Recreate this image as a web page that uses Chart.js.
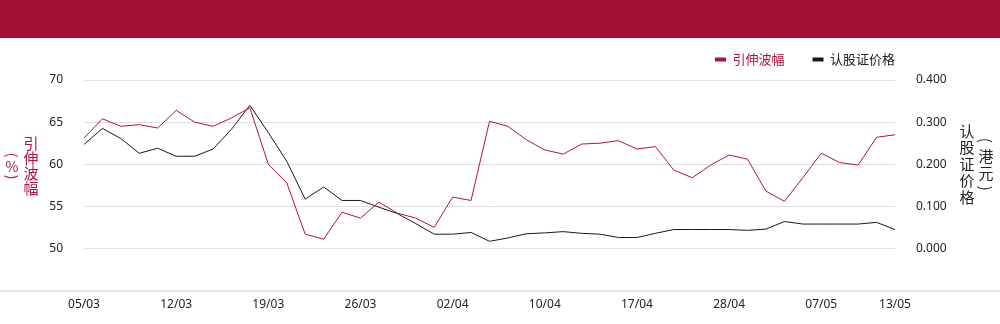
<!DOCTYPE html>
<html>
<head>
<meta charset="utf-8">
<script src="https://cdn.jsdelivr.net/npm/chart.js@4"></script>
<style>
  body { margin: 0; background: #fff; }
  .band { height: 38px; background: #a30e33; }
  .box { position: relative; width: 1000px; height: 286px; }
</style>
</head>
<body>
<div class="band"></div>
<div class="box"><canvas id="myChart"></canvas></div>
<script>
const dates = [
  '05/03','06/03','07/03','08/03','09/03',
  '12/03','13/03','14/03','15/03','16/03',
  '19/03','20/03','21/03','22/03','23/03',
  '26/03','27/03','28/03','29/03','30/03',
  '02/04','03/04','04/04','08/04','09/04',
  '10/04','11/04','12/04','13/04','16/04',
  '17/04','18/04','19/04','20/04','27/04',
  '28/04','29/04','30/04','03/05','06/05',
  '07/05','08/05','09/05','10/05','13/05'
];

// 引伸波幅 (%)
const impliedVol = [
  63.1, 65.4, 64.5, 64.7, 64.3, 66.4, 65.0, 64.5, 65.5, 66.7,
  60.0, 57.8, 51.7, 51.1, 54.3, 53.6, 55.5, 54.2, 53.6, 52.5,
  56.1, 55.7, 65.1, 64.5, 62.9, 61.7, 61.2, 62.4, 62.5, 62.8,
  61.8, 62.1, 59.3, 58.4, 59.9, 61.1, 60.6, 56.8, 55.6, 58.4,
  61.3, 60.2, 59.9, 63.2, 63.5
];

// 认股证价格 (港元)
const warrantPrice = [
  0.247, 0.285, 0.261, 0.226, 0.238, 0.219, 0.219, 0.236, 0.283, 0.340,
  0.275, 0.207, 0.117, 0.146, 0.114, 0.114, 0.098, 0.083, 0.059, 0.034,
  0.034, 0.038, 0.017, 0.025, 0.035, 0.037, 0.040, 0.036, 0.034, 0.026,
  0.026, 0.036, 0.045, 0.045, 0.045, 0.045, 0.043, 0.046, 0.064, 0.058,
  0.058, 0.058, 0.058, 0.062, 0.045
];

const leftTicks = [45, 50, 55, 60, 65, 70];
const rightTicks = [-0.1, 0, 0.1, 0.2, 0.3, 0.4];
const shownDates = ['05/03','12/03','19/03','26/03','02/04','10/04','17/04','28/04','07/05','13/05'];

const RED = '#b3123e';
const BLACK = '#1a1a1a';
const cjk = '"Noto Sans CJK SC", "Noto Sans", sans-serif';

// 括号要横过来画
function rotParen(c, ch, x, y) {
  c.save();
  c.translate(x, y);
  c.rotate(Math.PI / 2);
  c.fillText(ch, 0, 0);
  c.restore();
}

// 画纵向的轴标题和底部横线
const sideTitles = {
  id: 'sideTitles',
  afterLayout(chart) {
    // 图例右对齐到绘图区右边
    const lg = chart.legend;
    lg.left += 28; lg.right += 28;
    lg.top -= 4; lg.bottom -= 4;
  },
  afterDraw(chart) {
    const c = chart.ctx;
    const area = chart.chartArea;
    c.save();
    c.strokeStyle = '#cccccc';
    c.lineWidth = 1;
    c.beginPath();
    c.moveTo(0, area.bottom + 0.5);
    c.lineTo(chart.width, area.bottom + 0.5);
    c.stroke();

    c.textAlign = 'center';
    c.textBaseline = 'middle';
    c.font = '15px ' + cjk;

    const midL = chart.scales.y.getPixelForValue(60) + 2;
    c.fillStyle = RED;
    const left = '引伸波幅';
    for (let i = 0; i < left.length; i++) {
      c.fillText(left[i], 31, midL + (i - (left.length - 1) / 2) * 15);
    }
    c.font = '14px ' + cjk;
    rotParen(c, '(', 12, midL - 11);
    c.fillText('%', 12, midL);
    rotParen(c, ')', 12, midL + 11);

    const midR = chart.scales.y1.getPixelForValue(0.2);
    c.fillStyle = '#222';
    c.font = '15px ' + cjk;
    const right = '认股证价格';
    for (let i = 0; i < right.length; i++) {
      c.fillText(right[i], 967, midR + (i - (right.length - 1) / 2) * 16.5);
    }
    rotParen(c, '(', 986, midR - 24);
    c.fillText('港', 986, midR - 8);
    c.fillText('元', 986, midR + 9);
    rotParen(c, ')', 986, midR + 24);
    c.restore();
  }
};

const ctx = document.getElementById('myChart');

const warrantChart = new Chart(ctx, {
  type: 'line',
  data: {
    labels: dates,
    datasets: [
      {
        label: '引伸波幅',
        data: impliedVol,
        yAxisID: 'y',
        borderColor: RED,
        backgroundColor: RED,
        borderWidth: 1,
        pointRadius: 0,
        tension: 0
      },
      {
        label: '认股证价格',
        data: warrantPrice,
        yAxisID: 'y1',
        borderColor: BLACK,
        backgroundColor: BLACK,
        borderWidth: 1,
        pointRadius: 0,
        tension: 0
      }
    ]
  },
  options: {
    responsive: true,
    maintainAspectRatio: false,
    animation: false,
    layout: { padding: { top: -9, left: 0, right: 0, bottom: 5 } },
    plugins: {
      tooltip: { enabled: false },
      legend: {
        position: 'top',
        align: 'end',
        fullSize: false,
        labels: {
          boxWidth: 11,
          boxHeight: 4,
          padding: 28,
          font: { family: cjk, size: 13 },
          generateLabels(chart) {
            return chart.data.datasets.map((ds, i) => ({
              text: ds.label,
              fillStyle: ds.borderColor,
              strokeStyle: ds.borderColor,
              lineWidth: 0,
              fontColor: i === 0 ? RED : '#222',
              datasetIndex: i,
              hidden: false
            }));
          }
        }
      }
    },
    scales: {
      x: {
        grid: { display: false, drawTicks: false },
        border: { display: false },
        ticks: {
          autoSkip: false,
          maxRotation: 0,
          padding: 7,
          color: '#222',
          font: { family: '"Noto Sans", sans-serif', size: 12 },
          callback(value, index) {
            const d = dates[index];
            return shownDates.includes(d) ? d : '';
          }
        }
      },
      y: {
        position: 'left',
        min: leftTicks[0],
        max: leftTicks[leftTicks.length - 1],
        afterBuildTicks(scale) { scale.ticks = leftTicks.map(v => ({ value: v })); },
        afterFit(scale) { scale.width = 84; },
        border: { display: false },
        grid: {
          color: c => c.tick && c.tick.value === 45 ? 'rgba(0,0,0,0)' : '#e0e0e0',
          drawTicks: false
        },
        ticks: {
          padding: 21,
          color: '#222',
          font: { family: '"Noto Sans", sans-serif', size: 12 },
          callback: v => v === 45 ? '' : v
        }
      },
      y1: {
        position: 'right',
        min: rightTicks[0],
        max: rightTicks[rightTicks.length - 1],
        afterBuildTicks(scale) { scale.ticks = rightTicks.map(v => ({ value: v })); },
        afterFit(scale) { scale.width = 105; },
        border: { display: false },
        grid: { display: false, drawTicks: false },
        ticks: {
          padding: 21,
          color: '#222',
          font: { family: '"Noto Sans", sans-serif', size: 12 },
          callback: v => v < -0.05 ? '' : v.toFixed(3)
        }
      }
    }
  },
  plugins: [sideTitles]
});
</script>
</body>
</html>
